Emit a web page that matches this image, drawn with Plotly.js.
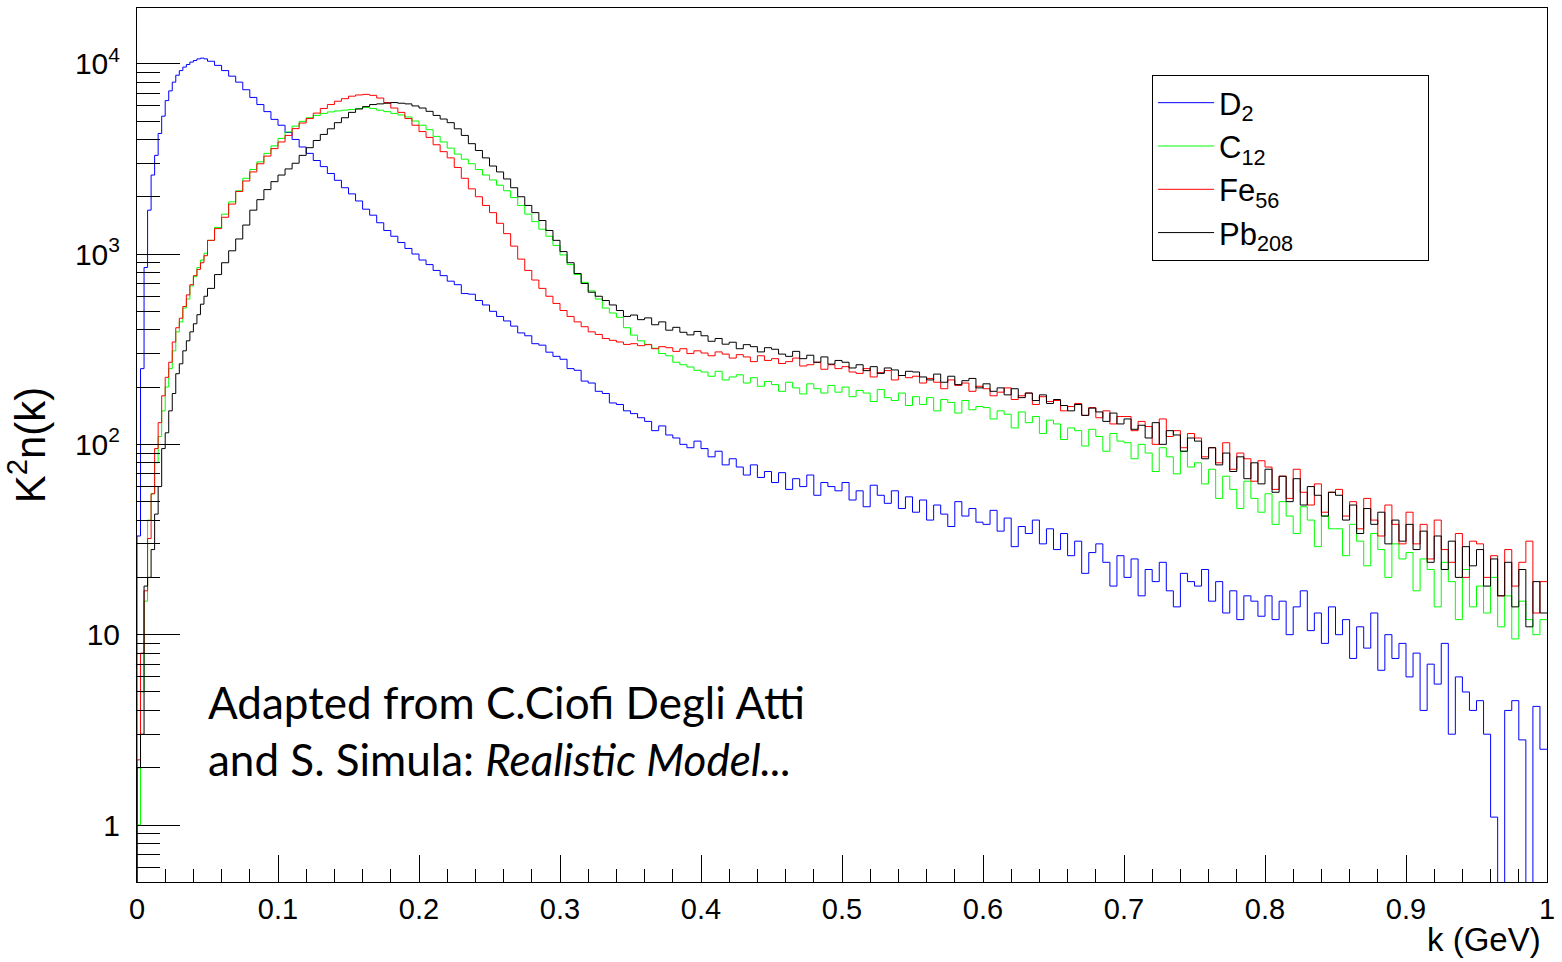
<!DOCTYPE html>
<html>
<head>
<meta charset="utf-8">
<script src="https://cdn.plot.ly/plotly-3.0.1.min.js"></script>
<style>html,body{margin:0;padding:0;background:#fff;}#chart{width:1562px;height:962px;}</style>
</head>
<body>
<div id="chart"></div>
<script>
// Bin layout: 20 bins of 0.0025 GeV (0-0.05), then 190 bins of 0.005 GeV (0.05-1)
const fineWidth = 0.0025, fineCount = 20;
const coarseWidth = 0.005, coarseCount = 190;

const seriesNames = ["D<sub>2</sub>", "C<sub>12</sub>", "Fe<sub>56</sub>", "Pb<sub>208</sub>"];
const seriesColors = ["#0000ff", "#00ff00", "#ff0000", "#000000"];

const d2 = [
  33, 250, 850, 1700, 2600, 3300, 4300, 5300, 6400, 7200, 8000, 8700, 9200, 9600, 9900, 10200, 10400, 10600, 10700, 10600,
  10300, 9800, 9200, 8600, 8000, 7300, 6650, 6100, 5600, 5100,
  4750, 4350, 4000, 3650, 3380, 3100, 2880, 2650, 2440, 2230,
  2070, 1900, 1720, 1600, 1460, 1330, 1240, 1150, 1070, 1000,
  930, 880, 820, 770, 720, 690, 620, 615, 570, 540,
  500, 470, 445, 418, 385, 372, 338, 332, 305, 290,
  280, 250, 245, 215, 210, 190, 185, 165, 162, 150,
  145, 138, 132, 118, 125, 112, 108, 100, 96, 104,
  95, 86, 92, 78, 84, 76, 69, 78, 67, 72,
  63, 71, 58, 66, 60, 69, 54, 63, 60, 57,
  63, 51, 57, 47, 61, 54, 49, 57, 46, 53,
  44, 51, 40, 48, 43, 37, 50, 42, 46, 39,
  38, 45, 35, 41, 29, 37, 34, 40, 30, 36,
  28, 34, 26, 31, 21, 27, 30, 24, 18, 26,
  20, 25, 16, 22, 19, 24, 17, 14, 21, 19,
  18, 22, 15, 19, 13, 17, 12, 16, 15, 12.5,
  16, 12, 15, 10, 14, 17, 10.5, 13, 9, 14,
  10, 12, 7.5, 11, 8.5, 13, 6.5, 10, 7.5, 9,
  6, 8, 4, 7, 5.5, 9, 3, 6, 5, 4,
  4.5, 3, 1.1, 0.3, 4, 4.5, 2.8, 0.3, 4.2, 2.5
];

const c12 = [
  1.0, 5, 15, 40, 55, 80, 110, 150, 200, 250, 310, 390, 440, 520, 580, 680, 760, 850, 930, 1010,
  1180, 1380, 1620, 1880, 2150, 2500, 2780, 3050, 3380, 3700,
  4050, 4380, 4700, 4980, 5200, 5350, 5480, 5580, 5650, 5700,
  5750, 5820, 5880, 5820, 5700, 5600, 5480, 5380, 5250, 5000,
  4750, 4500, 4150, 3880, 3600, 3350, 3150, 2980, 2780, 2600,
  2450, 2300, 2150, 1980, 1800, 1620, 1480, 1350, 1240, 1110,
  990, 880, 780, 710, 640, 580, 520, 490, 465, 410,
  375, 350, 335, 320, 300, 292, 270, 262, 255, 245,
  240, 228, 242, 218, 226, 232, 210, 224, 202, 214,
  206, 190, 212, 198, 184, 208, 196, 186, 204, 188,
  200, 178, 192, 186, 168, 194, 176, 170, 186, 160,
  178, 162, 176, 150, 172, 166, 146, 170, 152, 158,
  156, 136, 150, 144, 122, 148, 130, 140, 114, 134,
  128, 106, 122, 118, 98, 120, 110, 92, 114, 104,
  102, 84, 100, 90, 72, 96, 86, 70, 92, 76,
  80, 62, 74, 52, 68, 58, 46, 64, 52, 44,
  55, 38, 50, 42, 34, 47, 40, 29, 42, 36,
  36, 26, 38, 31, 23, 34, 28, 20, 30, 25,
  27, 17, 25, 22, 14, 24, 19, 12, 22, 14,
  18, 13, 20, 11, 16, 9.5, 15, 12, 10, 12
];

const fe56 = [
  2.2, 8, 17, 32, 55, 95, 130, 180, 225, 270, 345, 410, 460, 530, 610, 690, 770, 830, 900, 980,
  1180, 1360, 1560, 1830, 2130, 2420, 2700, 2980, 3270, 3580,
  3880, 4200, 4560, 4880, 5150, 5500, 5820, 6100, 6350, 6550,
  6750, 6850, 6900, 6820, 6600, 6250, 5850, 5550, 5150, 4750,
  4400, 4100, 3750, 3450, 3200, 2850, 2500, 2200, 2000, 1800,
  1650, 1450, 1280, 1100, 940, 820, 730, 660, 600, 550,
  505, 470, 440, 415, 390, 378, 360, 352, 345, 335,
  338, 330, 334, 318, 326, 322, 308, 318, 300, 310,
  302, 292, 306, 298, 284, 296, 288, 272, 292, 276,
  282, 266, 272, 284, 258, 262, 270, 248, 262, 250,
  256, 240, 236, 250, 226, 238, 244, 218, 230, 224,
  228, 210, 222, 212, 196, 218, 204, 210, 190, 202,
  196, 180, 188, 198, 172, 180, 186, 162, 178, 168,
  170, 150, 158, 164, 142, 156, 138, 150, 128, 140,
  140, 118, 132, 124, 100, 136, 110, 118, 96, 114,
  108, 86, 96, 80, 102, 74, 90, 84, 64, 82,
  76, 58, 68, 52, 74, 56, 48, 62, 44, 56,
  58, 42, 50, 36, 52, 40, 33, 48, 38, 30,
  44, 30, 38, 25, 40, 28, 24, 34, 20, 31,
  30, 20, 26, 16, 28, 18, 24, 31, 13, 19
];

const pb208 = [
  2, 3, 18, 20, 28, 43, 60, 95, 115, 150, 185, 235, 265, 310, 350, 390, 430, 480, 545, 600,
  660, 780, 900, 1040, 1200, 1420, 1700, 1930, 2180, 2400,
  2600, 2800, 3000, 3300, 3620, 3950, 4250, 4550, 4900, 5200,
  5550, 5780, 5950, 6100, 6150, 6200, 6250, 6200, 6150, 6000,
  5850, 5620, 5350, 5120, 4900, 4550, 4200, 3800, 3500, 3200,
  2900, 2700, 2480, 2230, 2000, 1800, 1650, 1500, 1330, 1180,
  1030, 900, 790, 700, 630, 600, 570, 540, 505, 470,
  478, 452, 462, 425, 440, 398, 412, 388, 376, 392,
  372, 348, 360, 336, 344, 318, 334, 326, 306, 322,
  316, 298, 290, 308, 282, 294, 270, 288, 264, 276,
  270, 252, 262, 244, 256, 236, 252, 246, 230, 242,
  240, 226, 218, 234, 212, 228, 206, 216, 222, 198,
  208, 190, 198, 182, 196, 176, 186, 170, 182, 164,
  172, 160, 150, 162, 142, 155, 148, 132, 146, 128,
  136, 120, 126, 108, 130, 100, 118, 112, 92, 108,
  104, 84, 96, 78, 90, 72, 86, 66, 80, 62,
  74, 56, 68, 50, 66, 48, 60, 54, 42, 56,
  54, 40, 48, 34, 46, 38, 44, 30, 40, 31,
  38, 28, 35, 24, 33, 22, 31, 20, 29, 23,
  28, 18, 25, 16, 24, 14, 22, 11, 19, 13
];

const xTickVals = [0, 0.1, 0.2, 0.3, 0.4, 0.5, 0.6, 0.7, 0.8, 0.9, 1];
const xTickText = ["0", "0.1", "0.2", "0.3", "0.4", "0.5", "0.6", "0.7", "0.8", "0.9", "1"];
const yTickVals = [1, 10, 100, 1000, 10000];
const yTickText = ["1", "10", "10<sup>2</sup>", "10<sup>3</sup>", "10<sup>4</sup>"];

// bin lower edges
const kEdges = [];
for (let i = 0; i < fineCount; i++) kEdges.push(+(i * fineWidth).toFixed(5));
for (let j = 0; j < coarseCount; j++) kEdges.push(+(fineCount * fineWidth + j * coarseWidth).toFixed(5));

// minor tick values for the log axis (2..9 per decade, plus below 1)
const yMinor = [];
[0.1, 1, 10, 100, 1000].forEach(d => { for (let m = 2; m <= 9; m++) yMinor.push(m * d); });

const floorVal = 0.05; // underflow level so the histogram starts from the frame bottom
function stepTrace(vals, name, color) {
  const x = [0].concat(kEdges, [1]);
  const y = [floorVal].concat(vals, [vals[vals.length - 1]]);
  return {
    type: "scatter", mode: "lines", x: x, y: y, name: name,
    line: {color: color, width: 1, shape: "hv"},
    hoverinfo: "skip"
  };
}

const data = [
  stepTrace(d2, seriesNames[0], seriesColors[0]),
  stepTrace(c12, seriesNames[1], seriesColors[1]),
  stepTrace(fe56, seriesNames[2], seriesColors[2]),
  stepTrace(pb208, seriesNames[3] + "&nbsp;".repeat(15), seriesColors[3])
];

const sansFamily = "Liberation Sans, Arial, Helvetica, sans-serif";

const layout = {
  width: 1562, height: 962,
  margin: {l: 137, r: 15, t: 8, b: 80},
  paper_bgcolor: "#fff", plot_bgcolor: "#fff",
  showlegend: true,
  xaxis: {
    range: [0, 1], showgrid: false, zeroline: false,
    showline: true, linecolor: "#000", linewidth: 1, mirror: true,
    tickmode: "array", tickvals: xTickVals, ticktext: xTickText,
    ticks: "inside", ticklen: 27, tickcolor: "#000", tickwidth: 1,
    tickfont: {family: sansFamily, size: 29, color: "#000"}, ticklabelstandoff: 1,
    minor: {dtick: 0.02, tick0: 0, ticks: "inside", ticklen: 13, tickcolor: "#000", tickwidth: 1, showgrid: false}
  },
  yaxis: {
    type: "log", range: [-0.2995, 4.2927], showgrid: false, zeroline: false,
    showline: true, linecolor: "#000", linewidth: 1, mirror: true,
    tickmode: "array", tickvals: yTickVals, ticktext: yTickText,
    ticks: "inside", ticklen: 43, tickcolor: "#000", tickwidth: 1,
    tickfont: {family: sansFamily, size: 30, color: "#000"}, ticklabelstandoff: 10,
    minor: {tickmode: "array", tickvals: yMinor, ticks: "inside", ticklen: 23, tickcolor: "#000", tickwidth: 1, showgrid: false},
    title: {text: "K<sup>2</sup>n(k)", font: {family: sansFamily, size: 42, color: "#000"}, standoff: 16}
  },
  legend: {
    x: 0.7199, y: 0.9233, xanchor: "left", yanchor: "top",
    bgcolor: "#fff", bordercolor: "#000", borderwidth: 1,
    font: {family: sansFamily, size: 31, color: "#000"},
    tracegroupgap: 0, itemwidth: 56
  },
  annotations: [
    {
      text: "k (GeV)", xref: "paper", yref: "paper", x: 0.9975, y: -0.066,
      xanchor: "right", yanchor: "middle", showarrow: false,
      font: {family: sansFamily, size: 33, color: "#000"}
    },
    {
      text: "Adapted from C.Ciofi Degli Atti<br>and S. Simula: <i>Realistic Model...</i>",
      xref: "paper", yref: "paper", x: 0.0489, y: 0.1728,
      xanchor: "left", yanchor: "middle", align: "left", showarrow: false,
      font: {family: "Lato, Carlito, Calibri, sans-serif", size: 44, color: "#000"}
    }
  ]
};

Plotly.newPlot("chart", data, layout, {displayModeBar: false, staticPlot: true});
</script>
</body>
</html>
